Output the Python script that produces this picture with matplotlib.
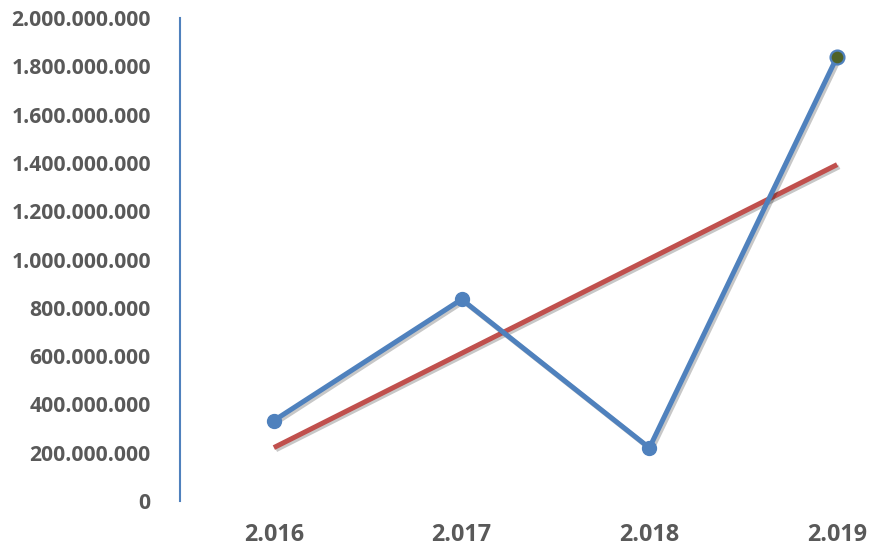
import matplotlib
matplotlib.use("Agg")
import matplotlib.pyplot as plt
import matplotlib.patheffects as pe
import numpy as np
from matplotlib.ticker import FuncFormatter

years = ["2.016", "2.017", "2.018", "2.019"]
values = [333e6, 835e6, 220e6, 1840e6]
yticks = np.arange(0, 2.0e9 + 1, 2e8)

x = np.arange(len(years))
coef = np.polyfit(x, values, 1)
trend = np.polyval(coef, x)

fig = plt.figure(figsize=(8.7, 5.55), dpi=100)
ax = fig.add_axes([180/870, 54/555, 690/870, 483/555])

shadow = [pe.SimpleLineShadow(offset=(1.5, -1.5), alpha=0.22, shadow_color='black'), pe.Normal()]

ax.plot(x, trend, color='#C0504D', lw=3.6, solid_capstyle='butt', path_effects=shadow, zorder=2)
ax.plot(x, values, color='#4F81BD', lw=3.6, solid_capstyle='round', path_effects=shadow, zorder=3)
ax.plot(x[:-1], values[:-1], marker='o', markersize=10, ls='none',
        markerfacecolor='#4F81BD', markeredgecolor='#4F81BD', zorder=4)
ax.plot([x[-1]], [values[-1]], marker='o', markersize=10, markerfacecolor='#4F6228',
        markeredgecolor='#4F81BD', markeredgewidth=1.6, ls='none', zorder=5)

ax.set_xlim(-0.5, 3.175)
ax.set_ylim(0, 2.0e9)
ax.set_yticks(yticks)
ax.yaxis.set_major_formatter(FuncFormatter(lambda v, p: f"{int(round(v)):,}".replace(",", ".")))
ax.set_xticks(x)
ax.set_xticklabels(years)

for s in ['top', 'right', 'bottom']:
    ax.spines[s].set_visible(False)
ax.spines['left'].set_color('#4F81BD')
ax.spines['left'].set_linewidth(1.5)
ax.spines['left'].set_bounds(0, 2.0e9)

ax.tick_params(axis='both', length=0, colors='#595959')
ax.tick_params(axis='y', pad=21)
ax.tick_params(axis='x', pad=16)
for lbl in ax.get_yticklabels():
    lbl.set_fontfamily('Open Sans')
    lbl.set_fontweight('bold')
    lbl.set_fontsize(15.2)
    lbl.set_color('#595959')
for lbl in ax.get_xticklabels():
    lbl.set_fontfamily('Open Sans')
    lbl.set_fontweight('bold')
    lbl.set_fontsize(16.8)
    lbl.set_color('#595959')

fig.savefig("out.png", dpi=100)
